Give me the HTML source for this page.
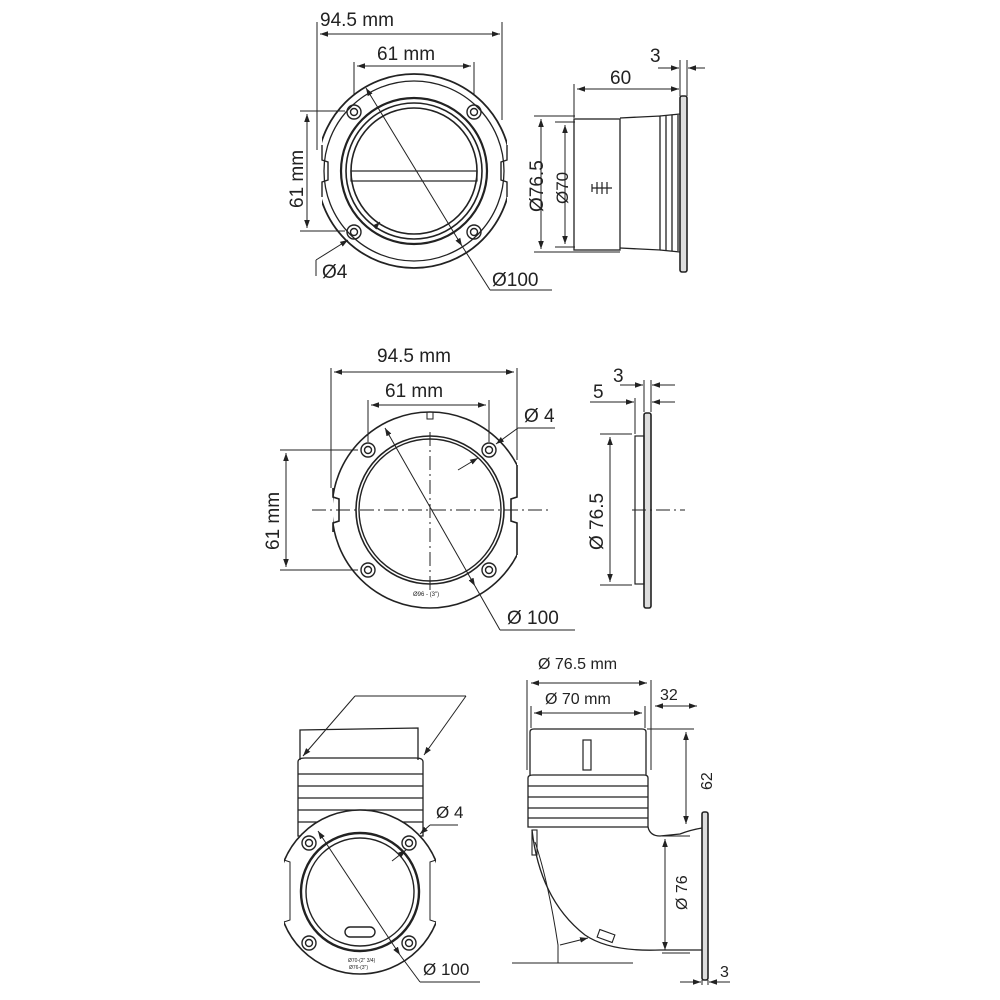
<!DOCTYPE html>
<html><head><meta charset="utf-8"><style>
html,body{margin:0;padding:0;background:#fff;width:1000px;height:1000px;overflow:hidden}
svg text{font-family:"Liberation Sans",sans-serif;fill:#222}
</style></head><body>
<svg width="1000" height="1000" viewBox="0 0 1000 1000" xmlns="http://www.w3.org/2000/svg">
<defs>
<marker id="a" viewBox="0 0 10 10" refX="10" refY="5" markerWidth="8" markerHeight="8" orient="auto-start-reverse"><path d="M0,1.5 L10,5 L0,8.5 z" fill="#222"/></marker>
<clipPath id="c1"><rect x="322" y="60" width="185" height="230"/></clipPath>
<clipPath id="c2"><rect x="333" y="400" width="184" height="220"/></clipPath>
<clipPath id="c3"><rect x="284" y="800" width="152" height="190"/></clipPath>
</defs>
<g stroke="#222" fill="none" stroke-width="1.3">

<!-- ========== TOP LEFT ========== -->
<circle cx="414" cy="171" r="97" clip-path="url(#c1)" stroke-width="1.8"/>
<circle cx="414" cy="171" r="90" clip-path="url(#c1)"/>
<path d="M322 145 L322 160 L328 162 L328 180 L322 182 L322 197 M507 145 L507 160 L501 162 L501 180 L507 182 L507 197" stroke-width="1.4"/>
<circle cx="414" cy="171" r="73" stroke-width="2.2"/>
<circle cx="414" cy="171" r="68" stroke-width="1.6"/>
<circle cx="414" cy="171" r="63" stroke-width="1.6"/>
<rect x="351" y="171" width="126" height="10" stroke-width="1.2"/>
<g stroke-width="1.4">
<circle cx="354" cy="112" r="7"/><circle cx="354" cy="112" r="3.5"/>
<circle cx="474" cy="112" r="7"/><circle cx="474" cy="112" r="3.5"/>
<circle cx="354" cy="232" r="7"/><circle cx="354" cy="232" r="3.5"/>
<circle cx="474" cy="232" r="7"/><circle cx="474" cy="232" r="3.5"/>
</g>
<line x1="317" y1="22" x2="317" y2="150" stroke-width="1"/><line x1="502" y1="22" x2="502" y2="120" stroke-width="1"/>
<line x1="320" y1="34" x2="500" y2="34" marker-start="url(#a)" marker-end="url(#a)" stroke-width="1"/>
<line x1="354" y1="62" x2="354" y2="95" stroke-width="1"/><line x1="474" y1="62" x2="474" y2="95" stroke-width="1"/>
<line x1="357" y1="66" x2="471" y2="66" marker-start="url(#a)" marker-end="url(#a)" stroke-width="1"/>
<line x1="300" y1="111" x2="345" y2="111" stroke-width="1"/><line x1="300" y1="231" x2="345" y2="231" stroke-width="1"/>
<line x1="307" y1="114" x2="307" y2="228" marker-start="url(#a)" marker-end="url(#a)" stroke-width="1"/>
<line x1="366" y1="88" x2="462" y2="246" marker-start="url(#a)" marker-end="url(#a)" stroke-width="1"/>
<line x1="462" y1="246" x2="490" y2="290" stroke-width="1"/><line x1="490" y1="290" x2="552" y2="290" stroke-width="1"/>
<line x1="376" y1="226" x2="380" y2="222" marker-end="url(#a)" stroke-width="1"/>
<line x1="316" y1="260" x2="348" y2="240" marker-end="url(#a)" stroke-width="1"/><line x1="316" y1="260" x2="316" y2="276" stroke-width="1"/>
</g>
<text x="320" y="26" font-size="19">94.5 mm</text>
<text x="377" y="60" font-size="19">61 mm</text>
<text x="303" y="208" font-size="19" transform="rotate(-90 303 208)">61 mm</text>
<text x="322" y="278" font-size="19">Ø4</text>
<text x="492" y="286" font-size="19">Ø100</text>

<!-- ========== TOP RIGHT ========== -->
<g stroke="#222" fill="none" stroke-width="1.3">
<rect x="574" y="119" width="46" height="131"/>
<path d="M620 118 L660 116 L660 250 L620 248"/>
<path d="M660 116 L680 114 M660 250 L680 252"/>
<line x1="666" y1="116" x2="666" y2="250"/><line x1="672" y1="115" x2="672" y2="251"/><line x1="678" y1="115" x2="678" y2="251"/>
<rect x="680" y="96" width="7" height="176" rx="2" fill="#ddd" stroke-width="1.6"/>
<path d="M592 184 L592 192 M592 188 L612 188 M597 182 L597 194 M602 182 L602 194 M607 182 L607 194" stroke-width="1.2"/>
<line x1="574" y1="84" x2="574" y2="118" stroke-width="1"/>
<line x1="577" y1="89" x2="679" y2="89" marker-start="url(#a)" marker-end="url(#a)" stroke-width="1"/>
<line x1="680" y1="60" x2="680" y2="96" stroke-width="1"/><line x1="687" y1="60" x2="687" y2="96" stroke-width="1"/>
<line x1="658" y1="68" x2="679" y2="68" marker-end="url(#a)" stroke-width="1"/>
<line x1="705" y1="68" x2="688" y2="68" marker-end="url(#a)" stroke-width="1"/>
<line x1="534" y1="116" x2="575" y2="116" stroke-width="1"/><line x1="534" y1="252" x2="620" y2="252" stroke-width="1"/>
<line x1="541" y1="119" x2="541" y2="249" marker-start="url(#a)" marker-end="url(#a)" stroke-width="1"/>
<line x1="555" y1="122" x2="575" y2="122" stroke-width="1"/><line x1="555" y1="247" x2="575" y2="247" stroke-width="1"/>
<line x1="565" y1="125" x2="565" y2="244" marker-start="url(#a)" marker-end="url(#a)" stroke-width="1"/>
</g>
<text x="610" y="84" font-size="19">60</text>
<text x="650" y="62" font-size="19">3</text>
<text x="543" y="212" font-size="19" transform="rotate(-90 543 212)">Ø76.5</text>
<text x="568" y="204" font-size="17" transform="rotate(-90 568 204)">Ø70</text>

<!-- ========== MIDDLE LEFT ========== -->
<g stroke="#222" fill="none" stroke-width="1.3">
<circle cx="430" cy="510" r="98" clip-path="url(#c2)" stroke-width="1.6"/>
<path d="M333 488 L333 497 L339 499 L339 521 L333 523 L333 532" stroke-width="1.6"/>
<path d="M517 465 L517 497 L511 499 L511 521 L517 523 L517 555" stroke-width="1.6"/>
<circle cx="430" cy="510" r="74" stroke-width="1.6"/>
<circle cx="430" cy="510" r="71" stroke-width="1.4"/>
<path d="M427 412 L427 419 L433 419 L433 412" stroke-width="1"/>
<g stroke-width="1.4">
<circle cx="368" cy="450" r="7"/><circle cx="368" cy="450" r="3.5"/>
<circle cx="489" cy="450" r="7"/><circle cx="489" cy="450" r="3.5"/>
<circle cx="368" cy="570" r="7"/><circle cx="368" cy="570" r="3.5"/>
<circle cx="489" cy="570" r="7"/><circle cx="489" cy="570" r="3.5"/>
</g>
<line x1="312" y1="510" x2="552" y2="510" stroke-dasharray="14 4 2 4" stroke-width="1"/>
<line x1="430" y1="432" x2="430" y2="590" stroke-dasharray="14 4 2 4" stroke-width="1"/>
<line x1="331" y1="368" x2="331" y2="488" stroke-width="1"/><line x1="517" y1="368" x2="517" y2="460" stroke-width="1"/>
<line x1="334" y1="372" x2="514" y2="372" marker-start="url(#a)" marker-end="url(#a)" stroke-width="1"/>
<line x1="368" y1="400" x2="368" y2="442" stroke-width="1"/><line x1="489" y1="400" x2="489" y2="442" stroke-width="1"/>
<line x1="371" y1="405" x2="486" y2="405" marker-start="url(#a)" marker-end="url(#a)" stroke-width="1"/>
<line x1="280" y1="450" x2="358" y2="450" stroke-width="1"/><line x1="280" y1="570" x2="358" y2="570" stroke-width="1"/>
<line x1="286" y1="453" x2="286" y2="567" marker-start="url(#a)" marker-end="url(#a)" stroke-width="1"/>
<line x1="385" y1="428" x2="475" y2="586" marker-start="url(#a)" marker-end="url(#a)" stroke-width="1"/>
<line x1="475" y1="586" x2="500" y2="630" stroke-width="1"/><line x1="500" y1="630" x2="575" y2="630" stroke-width="1"/>
<line x1="555" y1="428" x2="518" y2="428" stroke-width="1"/>
<line x1="518" y1="428" x2="496" y2="444" marker-end="url(#a)" stroke-width="1"/>
<line x1="458" y1="470" x2="478" y2="458" marker-end="url(#a)" stroke-width="1"/>
</g>
<text x="377" y="362" font-size="19">94.5 mm</text>
<text x="385" y="397" font-size="19">61 mm</text>
<text x="524" y="422" font-size="19">Ø 4</text>
<text x="279" y="550" font-size="19" transform="rotate(-90 279 550)">61 mm</text>
<text x="507" y="624" font-size="19">Ø 100</text>
<text x="413" y="596" font-size="6">Ø96 - (3")</text>

<!-- ========== MIDDLE RIGHT ========== -->
<g stroke="#222" fill="none" stroke-width="1.3">
<rect x="644" y="413" width="7" height="195" rx="2" fill="#ddd" stroke-width="1.6"/>
<rect x="635" y="436" width="9" height="148" stroke-width="1.2"/>
<line x1="632" y1="510" x2="685" y2="510" stroke-dasharray="14 4 2 4" stroke-width="1"/>
<line x1="600" y1="434" x2="632" y2="434" stroke-width="1"/><line x1="600" y1="585" x2="632" y2="585" stroke-width="1"/>
<line x1="610" y1="437" x2="610" y2="582" marker-start="url(#a)" marker-end="url(#a)" stroke-width="1"/>
<line x1="635" y1="398" x2="635" y2="434" stroke-width="1"/><line x1="644" y1="380" x2="644" y2="412" stroke-width="1"/><line x1="651" y1="380" x2="651" y2="412" stroke-width="1"/>
<line x1="620" y1="385" x2="643" y2="385" marker-end="url(#a)" stroke-width="1"/>
<line x1="675" y1="385" x2="652" y2="385" marker-end="url(#a)" stroke-width="1"/>
<line x1="590" y1="402" x2="634" y2="402" marker-end="url(#a)" stroke-width="1"/>
<line x1="675" y1="402" x2="652" y2="402" marker-end="url(#a)" stroke-width="1"/>
</g>
<text x="613" y="382" font-size="19">3</text>
<text x="593" y="398" font-size="19">5</text>
<text x="603" y="550" font-size="19" transform="rotate(-90 603 550)">Ø 76.5</text>

<!-- ========== BOTTOM LEFT ========== -->
<g stroke="#222" fill="none" stroke-width="1.3">
<path d="M300 760 L300 730 L418 728 L418 760"/>
<path d="M298 762 Q298 758 305 758 L416 758 Q423 758 423 762 L423 836 L298 836 Z"/>
<line x1="298" y1="774" x2="423" y2="774"/><line x1="298" y1="786" x2="423" y2="786"/>
<line x1="298" y1="798" x2="423" y2="798"/><line x1="298" y1="810" x2="423" y2="810"/><line x1="298" y1="822" x2="423" y2="822"/>
<circle cx="360" cy="892" r="82" clip-path="url(#c3)" fill="#fff" stroke-width="1.6"/>
<path d="M284 860 L290 862 L290 920 L284 922 M436 860 L430 862 L430 920 L436 922" stroke-width="1"/>
<circle cx="360" cy="892" r="59" stroke-width="2.4"/>
<circle cx="360" cy="892" r="54" stroke-width="1.4"/>
<rect x="345" y="927" width="30" height="10" rx="5" stroke-width="1.4"/>
<g stroke-width="1.4">
<circle cx="309" cy="843" r="7"/><circle cx="309" cy="843" r="3.5"/>
<circle cx="409" cy="843" r="7"/><circle cx="409" cy="843" r="3.5"/>
<circle cx="309" cy="943" r="7"/><circle cx="309" cy="943" r="3.5"/>
<circle cx="409" cy="943" r="7"/><circle cx="409" cy="943" r="3.5"/>
</g>
<line x1="466" y1="696" x2="355" y2="696" stroke-width="1"/>
<line x1="355" y1="696" x2="303" y2="756" marker-end="url(#a)" stroke-width="1"/>
<line x1="466" y1="696" x2="424" y2="755" marker-end="url(#a)" stroke-width="1"/>
<line x1="318" y1="831" x2="400" y2="955" marker-start="url(#a)" marker-end="url(#a)" stroke-width="1"/>
<line x1="400" y1="955" x2="420" y2="982" stroke-width="1"/><line x1="420" y1="982" x2="480" y2="982" stroke-width="1"/>
<line x1="458" y1="825" x2="430" y2="825" stroke-width="1"/>
<line x1="430" y1="825" x2="420" y2="834" marker-end="url(#a)" stroke-width="1"/>
<line x1="392" y1="861" x2="406" y2="850" marker-end="url(#a)" stroke-width="1"/>
</g>
<text x="436" y="818" font-size="17">Ø 4</text>
<text x="423" y="975" font-size="17">Ø 100</text>
<text x="348" y="962" font-size="5">Ø70-(2" 3/4)</text>
<text x="349" y="969" font-size="5">Ø76-(3")</text>

<!-- ========== BOTTOM RIGHT ========== -->
<g stroke="#222" fill="none" stroke-width="1.3">
<path d="M530 775 L530 732 Q530 729 534 729 L642 729 Q646 729 646 732 L646 775"/>
<rect x="583" y="740" width="8" height="30" stroke-width="1.2"/>
<path d="M528 778 Q528 775 533 775 L644 775 Q648 775 648 778 L648 827 L528 827 Z"/>
<line x1="528" y1="786" x2="648" y2="786"/><line x1="528" y1="797" x2="648" y2="797"/>
<line x1="528" y1="808" x2="648" y2="808"/><line x1="528" y1="818" x2="648" y2="818"/>
<path d="M648 827 Q650 836 660 836 L680 834 Q690 830 702 828"/>
<path d="M532 830 Q540 900 585 935 Q610 952 660 950 L702 950"/>
<rect x="532" y="830" width="5" height="25" stroke-width="1.1"/>
<rect x="598" y="932" width="16" height="8" transform="rotate(20 606 936)" stroke-width="1.1"/>
<rect x="702" y="812" width="6" height="168" rx="2" fill="#ddd" stroke-width="1.6"/>
<line x1="527" y1="680" x2="527" y2="770" stroke-width="1"/><line x1="651" y1="680" x2="651" y2="770" stroke-width="1"/>
<line x1="531" y1="683" x2="647" y2="683" marker-start="url(#a)" marker-end="url(#a)" stroke-width="1"/>
<line x1="531" y1="706" x2="531" y2="728" stroke-width="1"/><line x1="645" y1="706" x2="645" y2="728" stroke-width="1"/>
<line x1="534" y1="713" x2="642" y2="713" marker-start="url(#a)" marker-end="url(#a)" stroke-width="1"/>
<line x1="655" y1="706" x2="697" y2="706" marker-start="url(#a)" marker-end="url(#a)" stroke-width="1"/>
<line x1="647" y1="729" x2="694" y2="729" stroke-width="1"/>
<line x1="686" y1="732" x2="686" y2="824" marker-start="url(#a)" marker-end="url(#a)" stroke-width="1"/>
<line x1="662" y1="836" x2="690" y2="836" stroke-width="1"/><line x1="662" y1="953" x2="690" y2="953" stroke-width="1"/>
<line x1="665" y1="839" x2="665" y2="950" marker-start="url(#a)" marker-end="url(#a)" stroke-width="1"/>
<line x1="512" y1="963" x2="633" y2="963" stroke-width="1"/>
<path d="M558 963 L558 945 Q548 880 535 842" stroke-width="1"/>
<line x1="560" y1="945" x2="588" y2="938" marker-end="url(#a)" stroke-width="1"/>
<line x1="702" y1="980" x2="702" y2="985" stroke-width="1"/><line x1="708" y1="980" x2="708" y2="985" stroke-width="1"/>
<line x1="680" y1="982" x2="701" y2="982" marker-end="url(#a)" stroke-width="1"/>
<line x1="730" y1="982" x2="709" y2="982" marker-end="url(#a)" stroke-width="1"/>
</g>
<text x="538" y="669" font-size="16">Ø 76.5 mm</text>
<text x="545" y="704" font-size="16">Ø 70 mm</text>
<text x="660" y="700" font-size="16">32</text>
<text x="712" y="790" font-size="16" transform="rotate(-90 712 790)">62</text>
<text x="687" y="910" font-size="16" transform="rotate(-90 687 910)">Ø 76</text>
<text x="720" y="977" font-size="16">3</text>
</svg>
</body></html>
